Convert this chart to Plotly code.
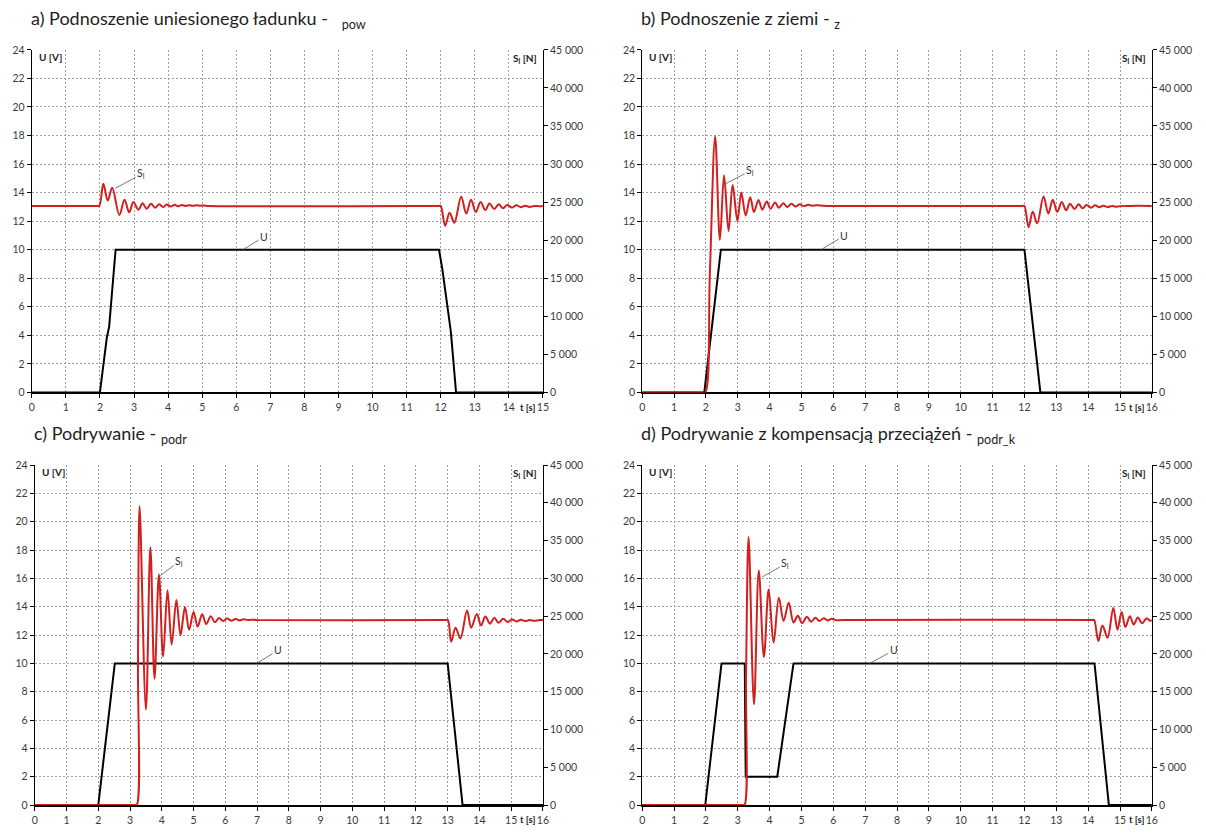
import plotly.graph_objects as go

W, H = 1206, 837

# ---------------- data ----------------
# a) Podnoszenie uniesionego ładunku
t_U_a = [0, 2.0, 2.2, 2.27, 2.46, 11.95, 12.05, 12.25, 12.3, 12.45, 15]
U_a   = [0, 0,   3.8, 4.6,  10,   10,    8.6,   4.8,   4.2,  0,     0]
t_S_a = [0, 1.9, 1.98, 2.10, 2.23, 2.36, 2.57, 2.72, 2.86, 2.98, 3.13, 3.25, 3.37, 3.50, 3.62,
         3.74, 3.85, 3.96, 4.08, 4.19, 4.30, 4.40, 4.52, 4.62, 4.73, 4.84, 4.95, 5.06, 5.2,
         11.9, 11.95, 12.0, 12.13, 12.26, 12.40, 12.60, 12.75, 12.89, 13.03, 13.17, 13.31,
         13.43, 13.57, 13.70, 13.83, 13.95, 14.09, 14.22, 14.35, 14.48, 14.61, 14.75, 14.9, 15]
S_a   = [24500, 24500, 24500, 27400, 25200, 26900, 23300, 25300, 23650, 25000, 24000, 24860,
         24130, 24790, 24260, 24730, 24340, 24680, 24410, 24640, 24450, 24620, 24490, 24600,
         24510, 24580, 24525, 24550, 24500,
         24500, 24500, 24500, 21900, 23600, 22300, 25700, 23500, 25300, 23700, 25000, 23950,
         24800, 24100, 24700, 24200, 24620, 24280, 24570, 24330, 24530, 24370, 24500, 24450,
         24500]

# b) Podnoszenie z ziemi
t_U_b = [0, 1.95, 2.47, 12.0, 12.5, 16]
U_b   = [0, 0,    10,   10,   0,    0]
t_S_b = [0, 1.9, 1.98, 2.125, 2.29, 2.44, 2.57, 2.71, 2.84, 2.99, 3.11, 3.25, 3.39, 3.51,
         3.65, 3.77, 3.91, 4.03, 4.17, 4.29, 4.43, 4.55, 4.69, 4.81, 4.95, 5.07, 5.21, 5.33,
         5.47, 5.59, 5.8,
         11.9, 11.95, 12.0, 12.13, 12.26, 12.40, 12.60, 12.75, 12.89, 13.03, 13.17, 13.31,
         13.43, 13.57, 13.70, 13.83, 13.95, 14.09, 14.22, 14.35, 14.48, 14.61, 14.75, 14.87,
         15.0, 15.3, 16]
S_b   = [0, 0, 0, 15750, 33620, 20040, 28540, 21210, 27240, 22500, 26250, 23230, 25650,
         23700, 25290, 24000, 25090, 24130, 24960, 24260, 24860, 24360, 24790, 24410, 24710,
         24470, 24640, 24525, 24600, 24540, 24500,
         24500, 24500, 24500, 21710, 23720, 22220, 25730, 23500, 25300, 23720, 25000, 23930,
         24790, 24100, 24700, 24190, 24620, 24270, 24570, 24320, 24530, 24360, 24490, 24400,
         24470, 24500, 24500]

# c) Podrywanie
t_U_c = [0, 2.0, 2.52, 13.0, 13.47, 16]
U_c   = [0, 0,   10,   10,   0,     0]
t_S_c = [0, 3.15, 3.21, 3.25, 3.30, 3.50, 3.64, 3.77, 3.91, 4.04, 4.18, 4.31, 4.46, 4.59,
         4.73, 4.86, 5.0, 5.13, 5.27, 5.40, 5.54, 5.67, 5.80, 5.93, 6.06, 6.19, 6.32, 6.45,
         6.58, 6.71, 6.84, 7.0,
         12.9, 12.95, 13.01, 13.11, 13.25, 13.40, 13.61, 13.74, 13.92, 14.05, 14.19, 14.33,
         14.47, 14.60, 14.75, 14.89, 15.02, 15.17, 15.30, 15.44, 15.58, 15.72, 15.9, 16]
S_c   = [0, 0, 0, 19000, 39560, 12640, 34125, 16725, 30525, 19650, 28440, 21240, 27150,
         22460, 26210, 23190, 25560, 23625, 25255, 23960, 24990, 24190, 24750, 24360, 24690,
         24390, 24640, 24440, 24600, 24480, 24540, 24500,
         24500, 24500, 24500, 21610, 23480, 22040, 25740, 23480, 25300, 23780, 24960, 24000,
         24780, 24130, 24650, 24220, 24565, 24300, 24520, 24350, 24480, 24390, 24480, 24480]

# d) Podrywanie z kompensacją przeciążeń
t_U_d = [0, 1.98, 2.49, 3.22, 3.25, 4.24, 4.75, 14.2, 14.65, 16]
U_d   = [0, 0,    10,   10,   2,    2,    10,   10,   0,     0]
t_S_d = [0, 3.15, 3.21, 3.26, 3.34, 3.51, 3.66, 3.82, 3.97, 4.125, 4.29, 4.44, 4.60, 4.75,
         4.885, 5.02, 5.17, 5.30, 5.44, 5.56, 5.70, 5.82, 5.95, 6.08, 6.3,
         14.1, 14.15, 14.19, 14.32, 14.45, 14.61, 14.79, 14.92, 15.05, 15.17, 15.31, 15.43,
         15.56, 15.69, 15.83, 15.95, 16]
S_d   = [0, 0, 0, 17000, 35460, 13330, 31030, 19610, 28520, 21490, 27430, 24375, 26775,
         24170, 25050, 24090, 24920, 24260, 24790, 24360, 24730, 24430, 24650, 24470, 24500,
         24500, 24500, 24500, 21710, 23760, 22140, 26110, 23210, 25555, 23550, 25000, 23890,
         24830, 24060, 24700, 24400, 24500]

U_ticks = list(range(0, 25, 2))
S_ticks = list(range(0, 45001, 5000))
S_ticktext = [f"{v:,}".replace(",", " ") for v in S_ticks]

titles = [
    "a) Podnoszenie uniesionego ładunku - &nbsp;&nbsp;<sub>pow</sub>",
    "b) Podnoszenie z ziemi - <sub>z</sub>",
    "c) Podrywanie - <sub>podr</sub>",
    "d) Podrywanie z kompensacją przeciążeń - <sub>podr_k</sub>",
]

# ---------------- layout geometry (pixels) ----------------
panels = [
    dict(tmax=15, x0=29, x1=544, y0=44.5, y1=392, tU=t_U_a, U=U_a, tS=t_S_a, S=S_a,
         sl=(2.45, 14.3, 26, -14), ul=(6.2, 10, 21, -13), tofs=7),
    dict(tmax=16, x0=644, x1=1157.5, y0=44.5, y1=392, tU=t_U_b, U=U_b, tS=t_S_b, S=S_b,
         sl=(2.6, 14.6, 25, -13), ul=(5.62, 10, 23, -14), tofs=6.5),
    dict(tmax=16, x0=32, x1=544, y0=465.7, y1=810.7, tU=t_U_c, U=U_c, tS=t_S_c, S=S_c,
         sl=(3.95, 16.2, 19, -14), ul=(6.99, 10, 21, -13), tofs=6.5),
    dict(tmax=16, x0=644, x1=1157.5, y0=465.7, y1=810.7, tU=t_U_d, U=U_d, tS=t_S_d, S=S_d,
         sl=(3.77, 16.1, 23, -13), ul=(7.14, 10, 24, -13), tofs=6.5),
]

FONT = "Lato"
TICKFONT = dict(family=FONT, size=10.5, color="#3a3a3a")
GRID = "#a0a0a0"
RED = "#d21f1f"

fig = go.Figure()
layout = dict(width=W, height=H, autosize=False, margin=dict(l=0, r=0, t=0, b=0),
              paper_bgcolor="white", plot_bgcolor="white", showlegend=False)
annotations = []

for i, p in enumerate(panels):
    n = i + 1
    xa = "x" if n == 1 else f"x{n}"
    yl_i, yr_i = 2 * i + 1, 2 * i + 2
    yl = "y" if yl_i == 1 else f"y{yl_i}"
    yr = f"y{yr_i}"
    xkey = "xaxis" if n == 1 else f"xaxis{n}"
    ylkey = "yaxis" if yl_i == 1 else f"yaxis{yl_i}"
    yrkey = f"yaxis{yr_i}"
    xd = [p["x0"] / W, p["x1"] / W]
    yd = [1 - p["y1"] / H, 1 - p["y0"] / H]
    tv = list(range(0, p["tmax"] + 1))
    layout[xkey] = dict(domain=xd, anchor=yl, range=[0, p["tmax"]], tickvals=tv,
                        showgrid=True, gridcolor=GRID, griddash="2px,2px", gridwidth=1,
                        showline=True, linecolor="black", linewidth=2, ticks="outside",
                        ticklen=4, tickcolor="black", tickwidth=1, zeroline=False,
                        tickfont=TICKFONT, layer="below traces", fixedrange=True)
    layout[ylkey] = dict(domain=yd, anchor=xa, range=[0, 24], tickvals=U_ticks,
                         showgrid=True, gridcolor=GRID, griddash="2px,2px", gridwidth=1,
                         showline=True, linecolor="black", linewidth=1, ticks="outside",
                         ticklen=4, tickcolor="black", tickwidth=1, zeroline=False,
                         tickfont=TICKFONT, layer="below traces", fixedrange=True)
    layout[yrkey] = dict(domain=yd, anchor=xa, overlaying=yl, side="right",
                         range=[0, 45000], tickvals=S_ticks, ticktext=S_ticktext,
                         showgrid=False, showline=True, linecolor="black", linewidth=1,
                         ticks="outside", ticklen=4, tickcolor="black", tickwidth=1,
                         zeroline=False, tickfont=TICKFONT, layer="below traces",
                         fixedrange=True)

    fig.add_trace(go.Scatter(x=p["tU"], y=p["U"], xaxis=xa, yaxis=yl, mode="lines",
                             line=dict(color="black", width=2)))
    fig.add_trace(go.Scatter(x=p["tS"], y=p["S"], xaxis=xa, yaxis=yr, mode="lines",
                             line=dict(color=RED, width=2, shape="spline", smoothing=1)))

    # title
    annotations.append(dict(xref="paper", yref="paper", x=(p["x0"] - 3) / W,
                            y=1 - (p["y0"] - 31) / H, xanchor="left", yanchor="middle",
                            text=titles[i], showarrow=False,
                            font=dict(family=FONT, size=18, color="#1e1e1e")))
    # axis names
    annotations.append(dict(xref="paper", yref="paper", x=(p["x0"] + 5) / W,
                            y=1 - (p["y0"] + 7.5) / H, xanchor="left", yanchor="middle",
                            text="<b>U [V]</b>", showarrow=False,
                            font=dict(family=FONT, size=10, color="#222")))
    annotations.append(dict(xref="paper", yref="paper", x=(p["x1"] - 4) / W,
                            y=1 - (p["y0"] + 8.5) / H, xanchor="right", yanchor="middle",
                            text="<b>S<sub>l</sub> [N]</b>", showarrow=False,
                            font=dict(family=FONT, size=10, color="#222")))
    annotations.append(dict(xref="paper", yref="paper", x=(p["x1"] - p["tofs"]) / W,
                            y=1 - (p["y1"] + 15) / H, xanchor="right", yanchor="middle",
                            text="<b>t [s]</b>", showarrow=False, borderpad=0,
                            font=dict(family=FONT, size=9.5, color="#222")))
    # curve labels with leader lines
    sx, sy, sax, say = p["sl"]
    annotations.append(dict(xref=xa, yref=yl, x=sx, y=sy, ax=sax, ay=say,
                            text="S<sub>l</sub>", showarrow=True, arrowhead=0,
                            arrowwidth=0.8, arrowcolor="#555",
                            font=dict(family=FONT, size=10.5, color="#333")))
    ux, uy, uax, uay = p["ul"]
    annotations.append(dict(xref=xa, yref=yl, x=ux, y=uy, ax=uax, ay=uay,
                            text="U", showarrow=True, arrowhead=0,
                            arrowwidth=0.8, arrowcolor="#555",
                            font=dict(family=FONT, size=10.5, color="#333")))

layout["annotations"] = annotations
fig.update_layout(**layout)
fig.write_html("out.html")
